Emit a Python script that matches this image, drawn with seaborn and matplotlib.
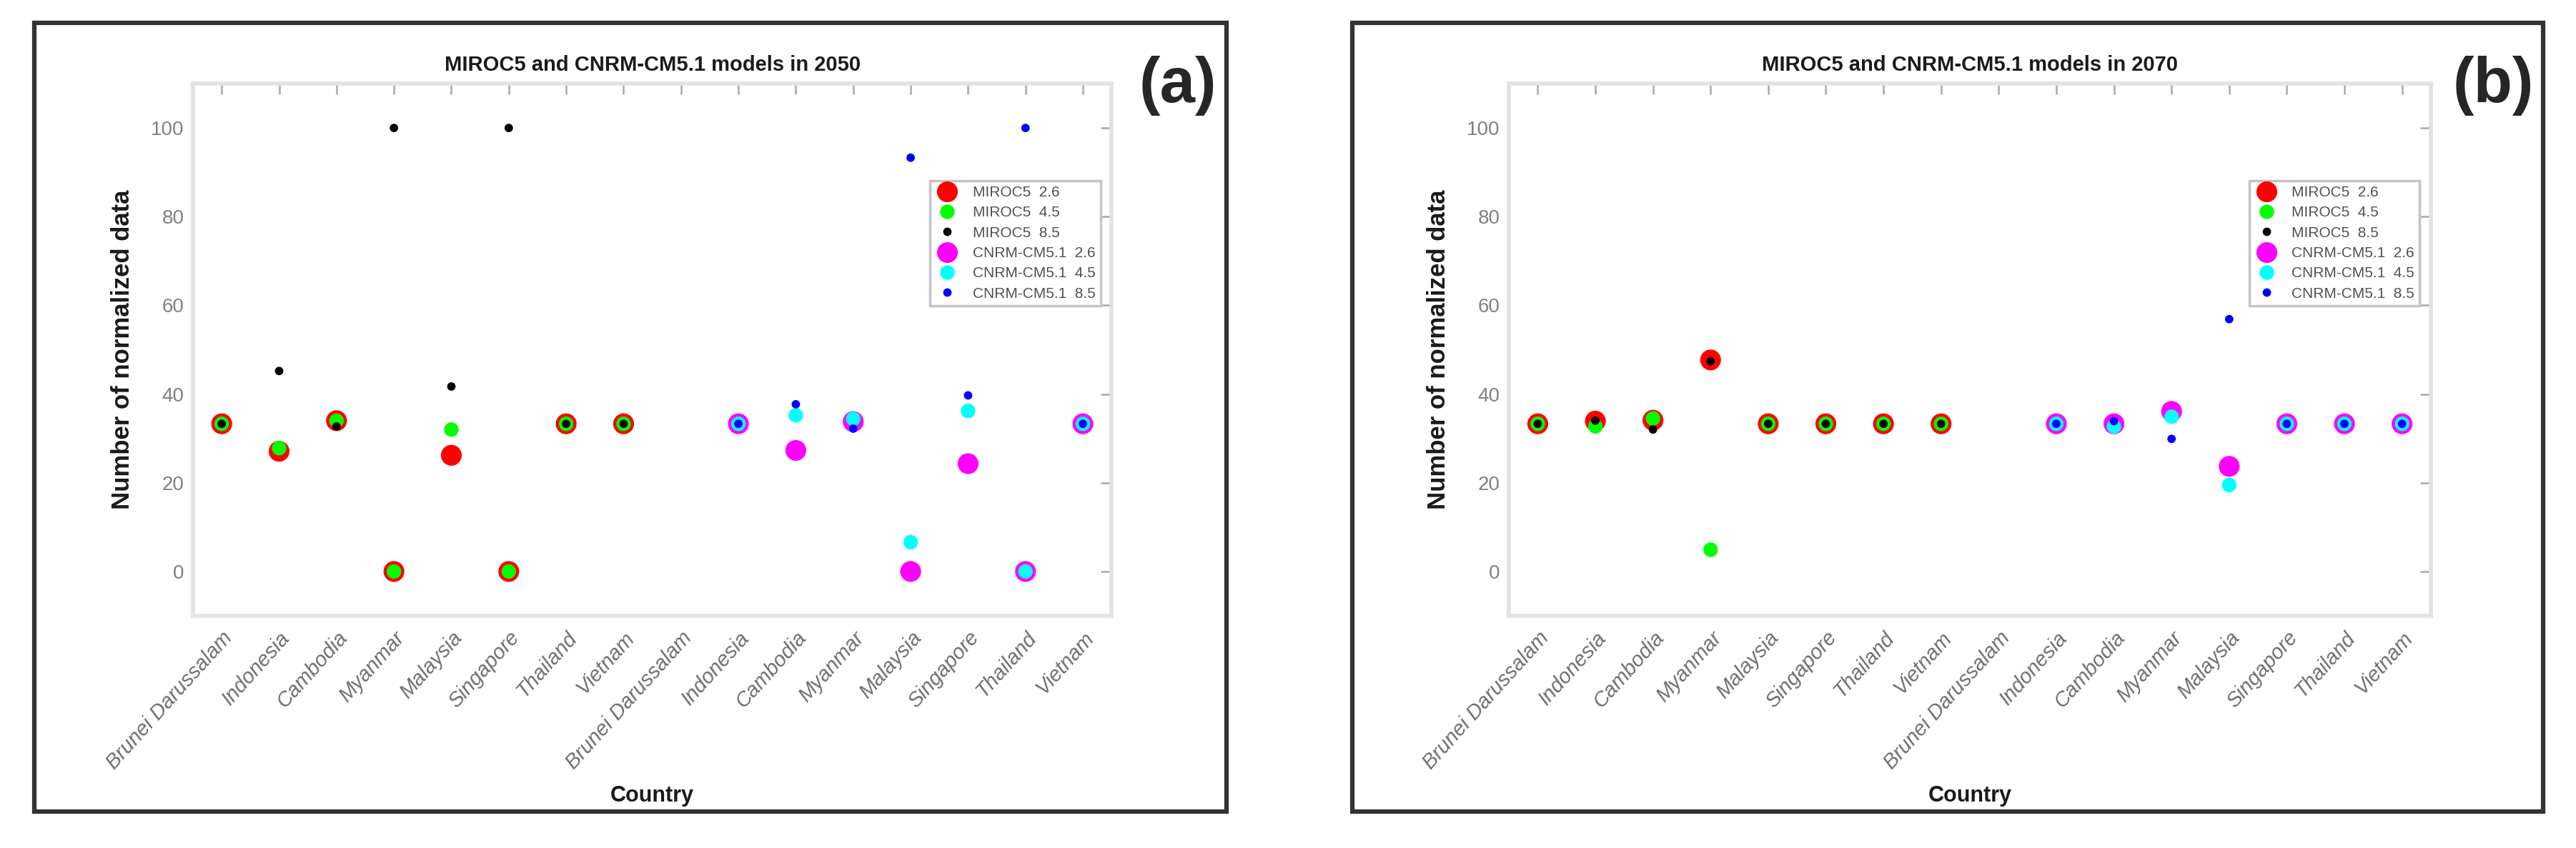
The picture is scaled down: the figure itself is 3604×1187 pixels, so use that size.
import numpy as np
import pandas as pd
import matplotlib.pyplot as plt
import seaborn as sns
from matplotlib.patches import Rectangle

countries = ["Brunei Darussalam", "Indonesia", "Cambodia", "Myanmar",
             "Malaysia", "Singapore", "Thailand", "Vietnam"]
tick_labels = countries + countries

series_names = ["MIROC5  2.6", "MIROC5  4.5", "MIROC5  8.5",
                "CNRM-CM5.1  2.6", "CNRM-CM5.1  4.5", "CNRM-CM5.1  8.5"]
series_colors = ["#ff0000", "#00ff00", "#000000", "#ff00ff", "#00ffff", "#0000ff"]
series_sizes = [440, 215, 72, 440, 215, 72]

# panel (a) - 2050
miroc26_2050 = [33.3, 27.1, 34.0, 0, 26.2, 0, 33.3, 33.3]
miroc45_2050 = [33.3, 27.8, 34.0, 0, 32.0, 0, 33.3, 33.3]
miroc85_2050 = [33.3, 45.2, 32.7, 100, 41.7, 100, 33.3, 33.3]
cnrm26_2050 = [np.nan, 33.3, 27.3, 33.8, 0, 24.3, 0, 33.3]
cnrm45_2050 = [np.nan, 33.3, 35.2, 34.4, 6.6, 36.2, 0, 33.3]
cnrm85_2050 = [np.nan, 33.3, 37.7, 32.2, 93.3, 39.7, 100, 33.3]

# panel (b) - 2070
miroc26_2070 = [33.3, 33.9, 34.1, 47.7, 33.3, 33.3, 33.3, 33.3]
miroc45_2070 = [33.3, 32.7, 34.5, 4.9, 33.3, 33.3, 33.3, 33.3]
miroc85_2070 = [33.3, 34.0, 32.0, 47.4, 33.3, 33.3, 33.3, 33.3]
cnrm26_2070 = [np.nan, 33.3, 33.3, 36.1, 23.7, 33.3, 33.3, 33.3]
cnrm45_2070 = [np.nan, 33.3, 32.7, 34.9, 19.5, 33.3, 33.3, 33.3]
cnrm85_2070 = [np.nan, 33.3, 33.9, 29.9, 56.9, 33.3, 33.3, 33.3]


def makeFrame(values_list):
    """long table: MIROC5 runs sit on the first 8 ticks, CNRM on the last 8"""
    rows = []
    for name, vals, offset in zip(series_names, values_list, [0, 0, 0, 8, 8, 8]):
        for k, v in enumerate(vals):
            if not np.isnan(v):
                rows.append({"pos": offset + k + 1, "value": v, "series": name})
    return pd.DataFrame(rows)


def drawPanel(ax, df, title):
    sns.scatterplot(data=df, x="pos", y="value", hue="series", size="series",
                    hue_order=series_names, size_order=series_names,
                    palette=dict(zip(series_names, series_colors)),
                    sizes=dict(zip(series_names, series_sizes)),
                    linewidth=0, ax=ax, legend="full")
    ax.set_xlim(0.5, 16.5)
    ax.set_ylim(-10, 110)
    ax.set_xticks(range(1, 17))
    ax.set_xticklabels(tick_labels, rotation=48, ha="right", va="top",
                       rotation_mode="anchor", fontstyle="italic",
                       color="#6e6e6e", fontsize=21)
    ax.set_yticks(range(0, 101, 20))
    ax.tick_params(axis="both", direction="in", length=11, width=1.8,
                   color="#a8a8a8", top=True, right=True)
    ax.tick_params(axis="x", pad=12)
    ax.tick_params(axis="y", labelsize=20, labelcolor="#808080", pad=9)
    for sp in ax.spines.values():
        sp.set_color("#e2e2e2")
        sp.set_linewidth(4)

    ax.set_title(title, fontsize=21, fontweight="bold", color="#1a1a1a", pad=13)
    ax.set_xlabel("Country", fontsize=22, fontweight="bold", color="#1a1a1a")
    ax.xaxis.set_label_coords(0.5, -0.318)
    ax.set_ylabel("Number of normalized data", fontsize=25, fontweight="bold",
                  color="#1a1a1a")
    ax.yaxis.set_label_coords(-0.064, 0.5)

    sns.move_legend(ax, "upper right", bbox_to_anchor=(0.988, 0.818), title=None,
                    frameon=True, fancybox=False, framealpha=1, fontsize=15,
                    labelspacing=0.45, handletextpad=0.9, borderpad=0.35,
                    borderaxespad=0, handlelength=1.6)
    leg = ax.get_legend()
    leg.get_frame().set_edgecolor("#c4c4c4")
    leg.get_frame().set_linewidth(2.5)
    for t in leg.get_texts():
        t.set_color("#505050")


sns.set_theme(style="white")
plt.rcParams["font.family"] = ["Liberation Sans", "DejaVu Sans"]

fig = plt.figure(figsize=(36.05, 11.87), dpi=100)
ax_a = fig.add_axes([0.0749, 0.2738, 0.3565, 0.6276])
ax_b = fig.add_axes([0.5856, 0.2738, 0.3578, 0.6276])

df_2050 = makeFrame([miroc26_2050, miroc45_2050, miroc85_2050,
                     cnrm26_2050, cnrm45_2050, cnrm85_2050])
df_2070 = makeFrame([miroc26_2070, miroc45_2070, miroc85_2070,
                     cnrm26_2070, cnrm45_2070, cnrm85_2070])

drawPanel(ax_a, df_2050, "MIROC5 and CNRM-CM5.1 models in 2050")
drawPanel(ax_b, df_2070, "MIROC5 and CNRM-CM5.1 models in 2070")

# outer boxes round each panel
for x0, x1 in [(0.0133, 0.476), (0.5248, 0.987)]:
    fig.add_artist(Rectangle((x0, 0.043), x1 - x0, 0.930, transform=fig.transFigure,
                             fill=False, edgecolor="#333333", linewidth=4.5))

fig.text(0.4571, 0.899, "(a)", fontsize=64, fontweight="bold", ha="center", va="center")
fig.text(0.9675, 0.899, "(b)", fontsize=64, fontweight="bold", ha="center", va="center")

fig.savefig("out.png", dpi=100)
